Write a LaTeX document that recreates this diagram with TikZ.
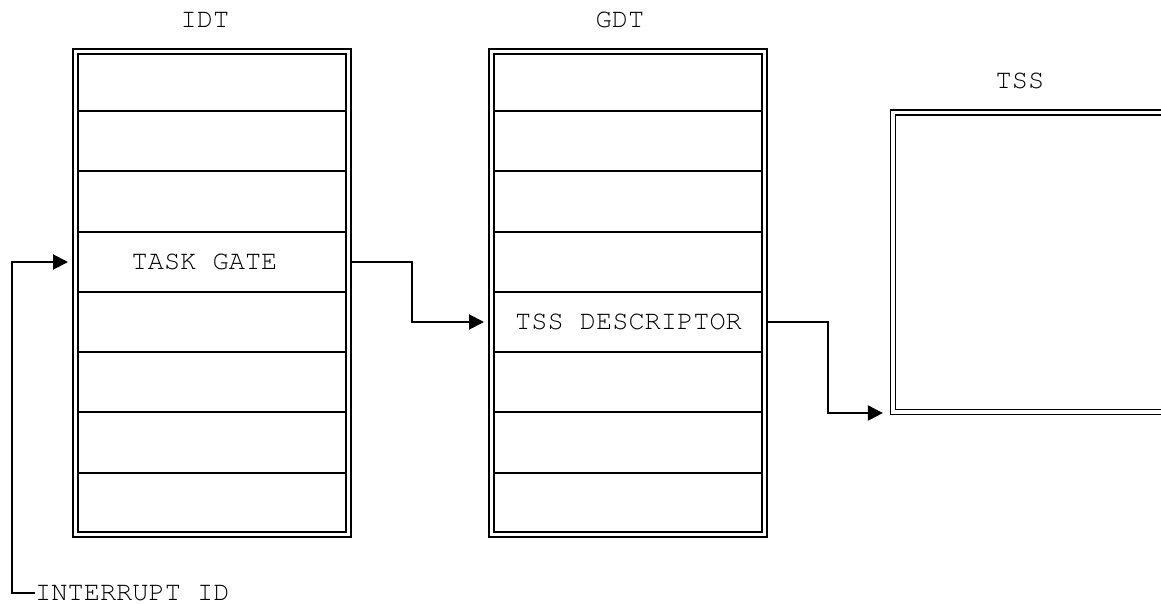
\documentclass[tikz,border=0pt]{standalone}
\usepackage{fontspec}
\setmonofont{texgyrecursor-regular.otf}
\usetikzlibrary{arrows.meta}
\begin{document}
\begin{tikzpicture}[x=1pt,y=-1pt,
  tbl/.style={draw, double, line width=1.5pt, double distance=3.5pt,
    inner sep=0pt, outer sep=3.25pt},
  rowline/.style={line width=2pt},
  lbl/.style={font=\ttfamily\fontsize{27}{27}\selectfont, inner sep=0pt},
  conn/.style={line width=2pt, -{Triangle[length=15pt,width=15pt]}},
]
\useasboundingbox (0,0) rectangle (1161,603);

% tables
\node[tbl, minimum width=273pt, minimum height=483pt] (idt) at (212,293) {};
\node[tbl, minimum width=273pt, minimum height=483pt] (gdt) at (628,293) {};
\begin{scope}
  \clip (0,0) rectangle (1161,603);
  \node[tbl, minimum width=281.75pt, minimum height=299.5pt] (tss) at (1034,262) {};
\end{scope}

% row separators
\foreach \y in {111,171.25,231.5,291.75,352,412.25,472.5}{
  \draw[rowline] (79,\y) -- (345,\y);
  \draw[rowline] (495,\y) -- (761,\y);
}

% titles
\node[lbl] (tidt) at (205,20) {IDT};
\node[lbl] (tgdt) at (620,20) {GDT};
\node[lbl] (ttss) at (1020,81) {TSS};

% cells
\node[lbl] (tg) at (204.5,262) {TASK GATE};
\node[lbl] (td) at (628.5,322) {TSS DESCRIPTOR};
\node[lbl, anchor=west] (iid) at (35,593) {INTERRUPT ID};

% connectors
\coordinate (c1) at (12,262);
\coordinate (c2) at (412,322);
\coordinate (c3) at (828,413);
\draw[conn, shorten >=4.25pt] (iid.west) -| (c1) -- (idt.west |- c1);
\draw[conn, shorten >=4.25pt] (idt.east |- tg) -| (c2) -- (gdt.west |- c2);
\draw[conn, shorten >=7pt] (gdt.east |- td) -| (c3) -- (tss.west |- c3);
\end{tikzpicture}
\end{document}
